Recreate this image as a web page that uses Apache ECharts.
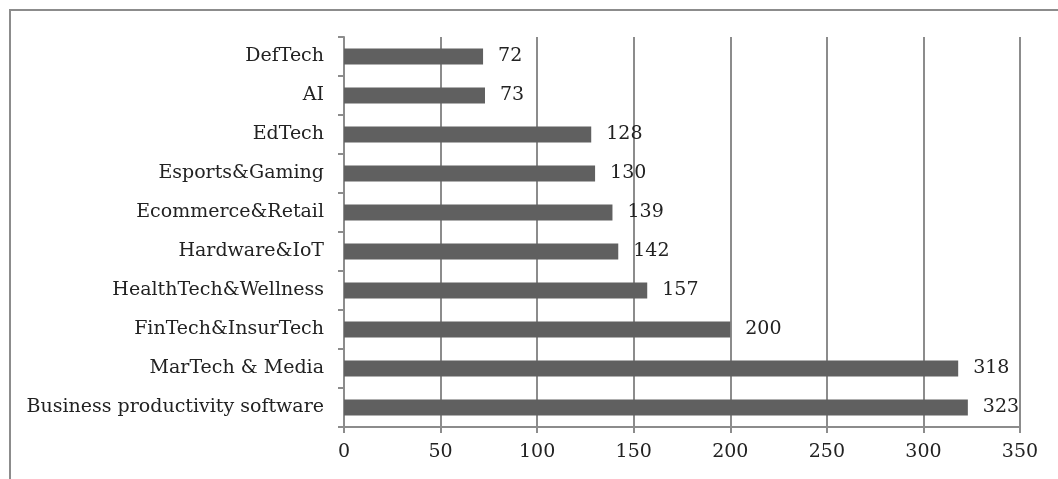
<!DOCTYPE html>
<html><head><meta charset="utf-8">
<script src="https://cdn.jsdelivr.net/npm/echarts@6/dist/echarts.min.js"></script>
<style>html,body{margin:0;padding:0;background:#fff}#c{width:1058px;height:479px}</style>
</head><body><div id="c"></div>
<script>
const categories = ["Business productivity software","MarTech & Media","FinTech&InsurTech","HealthTech&Wellness","Hardware&IoT","Ecommerce&Retail","Esports&Gaming","EdTech","AI","DefTech"];
const values = [323,318,200,157,142,139,130,128,73,72];
const xTicks = [0,50,100,150,200,250,300,350];
const chart = echarts.init(document.getElementById('c'));
const serif = "'DejaVu Serif', serif";
chart.setOption({
  animation:false,
  graphic:[{type:'rect',shape:{x:10,y:10,width:1200,height:1000},style:{fill:'none',stroke:'#8c8c8c',lineWidth:2},silent:true}],
  grid:{left:344,right:38,top:37,bottom:52},
  xAxis:{type:'value',min:xTicks[0],max:xTicks[xTicks.length-1],interval:50,
    axisLine:{show:true,lineStyle:{color:'#8c8c8c',width:2}},
    axisTick:{show:true,length:6,lineStyle:{color:'#8c8c8c',width:2}},
    splitLine:{show:true,lineStyle:{color:'#8c8c8c',width:2}},
    axisLabel:{margin:16,fontFamily:serif,fontSize:19,color:'#222'}},
  yAxis:{type:'category',data:categories,
    axisLine:{show:true,lineStyle:{color:'#8c8c8c',width:2}},
    axisTick:{show:true,length:6,lineStyle:{color:'#8c8c8c',width:2}},
    axisLabel:{margin:20,fontFamily:serif,fontSize:19,color:'#222'}},
  series:[{type:'bar',data:values,barWidth:16,itemStyle:{color:'#606060'},
    label:{show:true,position:'right',distance:15,fontFamily:serif,fontSize:19,color:'#222'}}]
});
</script></body></html>
